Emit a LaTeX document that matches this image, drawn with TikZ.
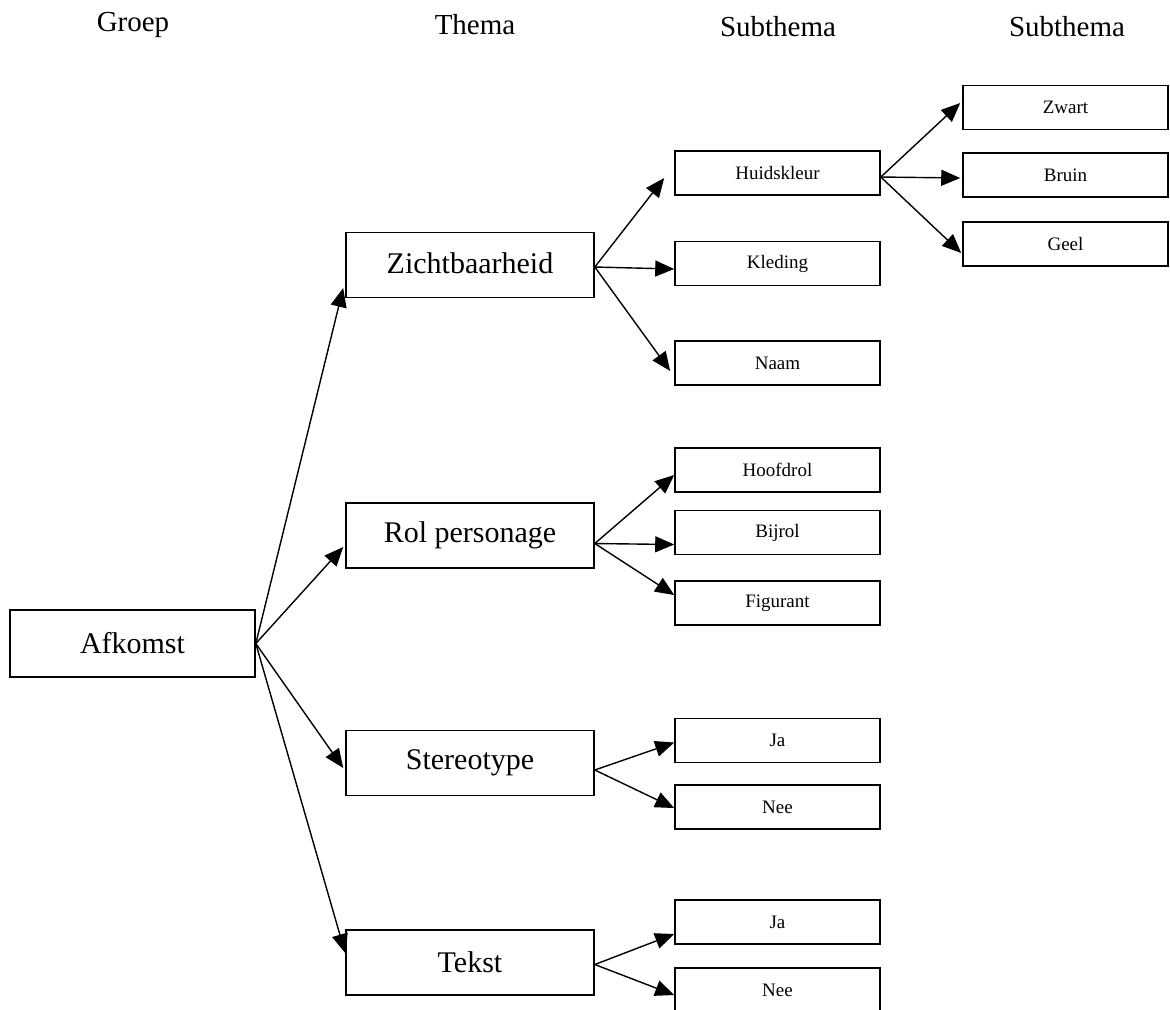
\documentclass[tikz,border=0pt]{standalone}
\usepackage{fontspec}
\setmainfont{Liberation Serif}
\usetikzlibrary{arrows.meta}
\begin{document}
\begin{tikzpicture}[x=0.5pt,y=-0.5pt,
  box/.style={draw,line width=0.8pt,inner sep=0pt,fill=white},
  groupbox/.style={box,minimum width=122.5pt,minimum height=33.5pt,font=\fontsize{15}{18}\selectfont},
  themebox/.style={box,minimum width=124pt,minimum height=32.5pt,font=\fontsize{15}{18}\selectfont},
  subbox/.style={box,minimum width=102.5pt,minimum height=22pt,font=\fontsize{9.5}{11}\selectfont},
  head/.style={font=\fontsize{14.5}{17}\selectfont},
  conn/.style={line width=0.7pt,-{Triangle[length=9.5pt,width=8pt]}}]
\useasboundingbox (0,0) rectangle (1170,1009);

% column headings
\node[head] (hGroep) at (133,25) {Groep};
\node[head] (hThema) at (475,25) {Thema};
\node[head] (hSub1)  at (778,27) {Subthema};
\node[head] (hSub2)  at (1067,27) {Subthema};

% group
\node[groupbox] (afk) at (132.5,643.5) {Afkomst};

% themes
\node[themebox] (zicht) at (470,265)   {\raisebox{2pt}{Zichtbaarheid}};
\node[themebox] (rol)   at (470,535.5) {\raisebox{2pt}{Rol personage}};
\node[themebox] (stereo) at (470,763)  {\raisebox{2pt}{Stereotype}};
\node[themebox] (tekst) at (470,962.5) {Tekst};

% subthemes
\node[subbox] (huid)  at (777.5,173)   {Huidskleur};
\node[subbox] (kled)  at (777.5,263.5) {\raisebox{-1pt}{Kleding}};
\node[subbox] (naam)  at (777.5,363)   {Naam};
\node[subbox] (hoofd) at (777.5,470)   {Hoofdrol};
\node[subbox] (bij)   at (777.5,532.5) {Bijrol};
\node[subbox] (fig)   at (777.5,603)   {Figurant};
\node[subbox] (ja1)   at (777.5,740.5) {Ja};
\node[subbox] (nee1)  at (777.5,807)   {Nee};
\node[subbox] (ja2)   at (777.5,922)   {Ja};
\node[subbox] (nee2)  at (777.5,990)   {Nee};

% skin colours
\node[subbox] (zwart) at (1065.5,107.5) {Zwart};
\node[subbox] (bruin) at (1065.5,175)   {Bruin};
\node[subbox] (geel)  at (1065.5,244)   {Geel};

% group to themes
\draw[conn] (afk.east) -- ([xshift=-1pt,yshift=-11.5pt]zicht.west);
\draw[conn] (afk.east) -- ([xshift=-1pt,yshift=-5.75pt]rol.west);
\draw[conn] (afk.east) -- ([xshift=-1pt,yshift=-2.5pt]stereo.west);
\draw[conn] (afk.east) -- ([yshift=4.75pt]tekst.west);

% themes to subthemes
\draw[conn] ([yshift=-1pt]zicht.east) -- ([xshift=-5pt,yshift=-2.5pt]huid.west);
\draw[conn] ([yshift=-1pt]zicht.east) -- ([yshift=-2.75pt]kled.west);
\draw[conn] ([yshift=-1pt]zicht.east) -- ([xshift=-2pt,yshift=-4pt]naam.west);

\draw[conn] ([yshift=-4pt]rol.east) -- ([yshift=-2.5pt]hoofd.west);
\draw[conn] ([yshift=-4pt]rol.east) -- ([yshift=-6pt]bij.west);
\draw[conn] ([yshift=-4pt]rol.east) -- ([yshift=4pt]fig.west);

\draw[conn] ([yshift=-3.5pt]stereo.east) -- ([yshift=-1pt]ja1.west);
\draw[conn] ([yshift=-3.5pt]stereo.east) -- ([yshift=-0.5pt]nee1.west);

\draw[conn] ([yshift=-1pt]tekst.east) -- ([yshift=-6pt]ja2.west);
\draw[conn] ([yshift=-1pt]tekst.east) -- ([yshift=-2.5pt]nee2.west);

% skin colour branches
\draw[conn] ([yshift=-2pt]huid.east) -- ([xshift=-1pt,yshift=2.25pt]zwart.west);
\draw[conn] ([yshift=-2pt]huid.east) -- ([xshift=-1pt,yshift=-1.5pt]bruin.west);
\draw[conn] ([yshift=-2pt]huid.east) -- ([xshift=-0.5pt,yshift=-4.5pt]geel.west);
\end{tikzpicture}
\end{document}
